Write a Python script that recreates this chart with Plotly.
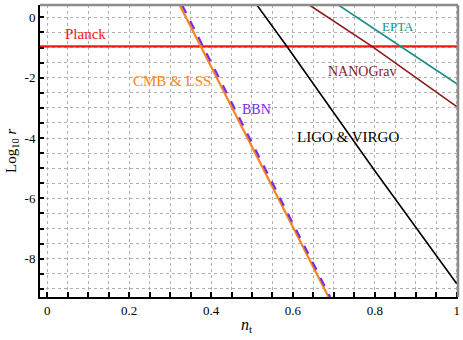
import plotly.graph_objects as go

# constraint curves: log10 r versus n_t
planck_nt = [-0.05, 1.05]
planck_logr = [-0.96, -0.96]

cmb_nt = [0.3234, 0.687]
cmb_logr = [0.41, -9.27]

bbn_nt = [0.3293, 0.691]
bbn_logr = [0.41, -9.27]

ligo_nt = [0.512, 0.585, 0.798, 1.0]
ligo_logr = [0.41, -0.96, -5.05, -8.83]

nano_nt = [0.640, 0.793, 1.0]
nano_logr = [0.41, -0.96, -2.96]

epta_nt = [0.711, 0.862, 1.0]
epta_logr = [0.41, -0.96, -2.2]

ytick_vals = [0, -2, -4, -6, -8]
ytick_text = ["0", "-2", "-4", "-6", "-8"]
xtick_vals = [0, 0.2, 0.4, 0.6, 0.8, 1]
xtick_text = ["0", "0.2", "0.4", "0.6", "0.8", "1"]

font = "Liberation Serif"

fig = go.Figure()
fig.add_trace(go.Scatter(x=planck_nt, y=planck_logr, mode="lines", line=dict(color="#ff1414", width=2.2)))
fig.add_trace(go.Scatter(x=cmb_nt, y=cmb_logr, mode="lines", line=dict(color="#f7861e", width=2.2)))
fig.add_trace(go.Scatter(x=bbn_nt, y=bbn_logr, mode="lines", line=dict(color="#7a2ee6", width=2.2, dash="dash")))
fig.add_trace(go.Scatter(x=ligo_nt, y=ligo_logr, mode="lines", line=dict(color="black", width=1.6)))
fig.add_trace(go.Scatter(x=nano_nt, y=nano_logr, mode="lines", line=dict(color="#8b1a1a", width=1.6)))
fig.add_trace(go.Scatter(x=epta_nt, y=epta_logr, mode="lines", line=dict(color="#1a8f8a", width=1.6)))

labels = [
    ("Planck", 0.093, -0.55, "#ff1414", 15),
    ("CMB & LSS", 0.304, -2.1, "#f7861e", 15),
    ("BBN", 0.51, -3.06, "#7a2ee6", 14),
    ("LIGO & VIRGO", 0.735, -3.98, "black", 15),
    ("NANOGrav", 0.768, -1.8, "#8b1a1a", 14),
    ("EPTA", 0.856, -0.29, "#1a8f8a", 13),
]
for txt, x, y, c, s in labels:
    fig.add_annotation(x=x, y=y, text=txt, showarrow=False,
                       font=dict(family=font, size=s, color=c))

# axis titles
fig.add_annotation(xref="x", yref="paper", x=0.487, y=-0.099,
                   text="<i>n</i><sub>t</sub>", showarrow=False, yanchor="middle",
                   font=dict(family=font, size=16, color="black"))
fig.add_annotation(xref="paper", yref="paper", x=-0.067, y=0.5, textangle=-90,
                   text="Log<sub>10</sub> <i>r</i>", showarrow=False, xanchor="center",
                   font=dict(family=font, size=15, color="black"))

grid = dict(showgrid=True, gridcolor="#b0b0b0", griddash="dot", gridwidth=1)

fig.update_xaxes(range=[-0.0176, 1.003], tickvals=xtick_vals, ticktext=xtick_text,
                 ticks="inside", ticklen=5, tickwidth=1.5, tickcolor="black",
                 showline=True, linecolor="black", linewidth=2, zeroline=False,
                 automargin=False,
                 minor=dict(dtick=0.05, tick0=0, ticks="inside", ticklen=5, tickwidth=1.5,
                            tickcolor="black", **grid),
                 tickfont=dict(family=font, size=13, color="black"), **grid)
fig.update_yaxes(range=[-9.27, 0.41], tickvals=ytick_vals, ticktext=ytick_text,
                 ticks="inside", ticklen=4, tickwidth=1.5, tickcolor="black",
                 showline=True, linecolor="black", linewidth=2, zeroline=False,
                 automargin=False,
                 minor=dict(dtick=0.5, tick0=0, ticks="inside", ticklen=4, tickwidth=1.5,
                            tickcolor="black", **grid),
                 tickfont=dict(family=font, size=13, color="black"), **grid)

# grey frame on top and right
fig.add_shape(type="line", xref="paper", yref="paper", x0=0, x1=1, y0=1, y1=1,
              line=dict(color="#8c8c8c", width=2.5), layer="above")
fig.add_shape(type="line", xref="paper", yref="paper", x0=1, x1=1, y0=0, y1=1,
              line=dict(color="#8c8c8c", width=2.5), layer="above")

fig.update_layout(width=463, height=340, showlegend=False,
                  margin=dict(l=40, r=5, t=5, b=43),
                  plot_bgcolor="white", paper_bgcolor="white",
                  font=dict(family=font, color="black"))

fig.write_html("out.html", config={"displayModeBar": False},
               post_script="document.body.style.margin='0';")
